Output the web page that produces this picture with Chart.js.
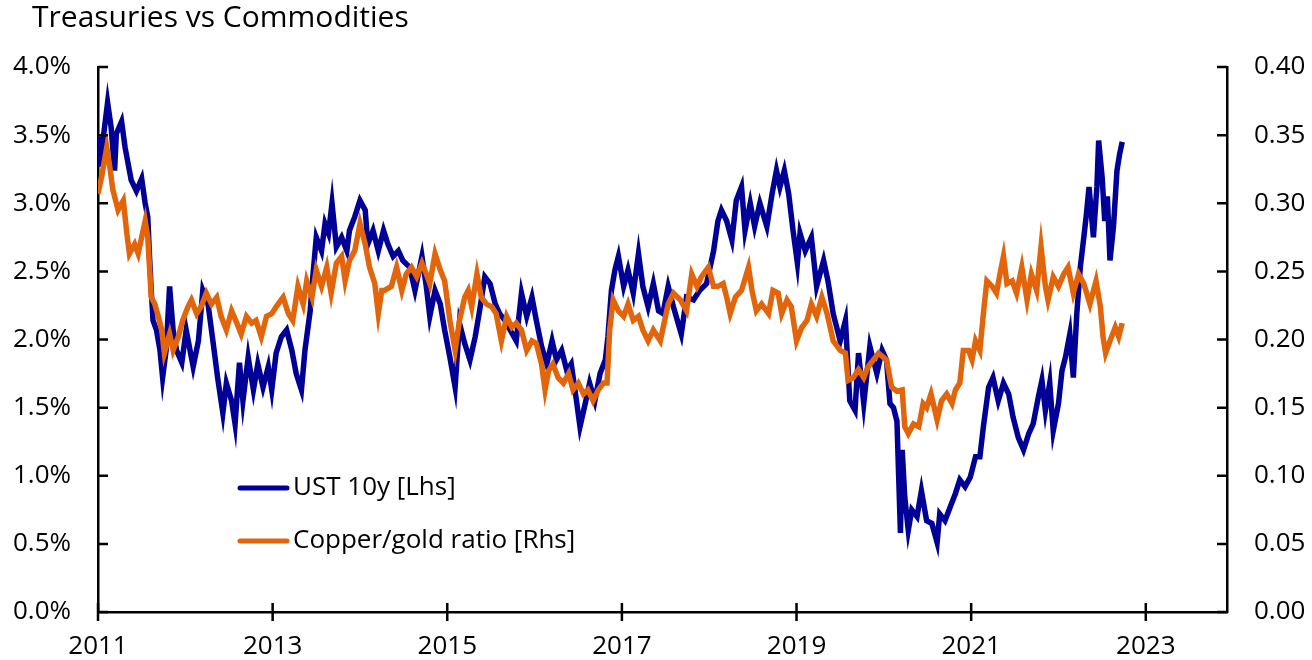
<!DOCTYPE html>
<html>
<head>
<meta charset="utf-8">
<script src="https://cdn.jsdelivr.net/npm/chart.js@4.4.1/dist/chart.umd.min.js"></script>
<style>
  html, body { margin: 0; padding: 0; background: #fff; }
  canvas { display: block; }
</style>
</head>
<body>
<canvas id="chart" width="1312" height="660"></canvas>
<script>
// UST 10y yield (%), left axis
const ustDates = [
  2011.00, 2011.02, 2011.11, 2011.15, 2011.19, 2011.21, 2011.27, 2011.31, 2011.38, 2011.44,
  2011.50, 2011.54, 2011.57, 2011.59, 2011.61, 2011.63, 2011.67, 2011.71, 2011.74, 2011.78,
  2011.82, 2011.86, 2011.90, 2011.96, 2012.01, 2012.09, 2012.15, 2012.20, 2012.26, 2012.32,
  2012.37, 2012.43, 2012.47, 2012.53, 2012.57, 2012.62, 2012.66, 2012.72, 2012.78, 2012.83,
  2012.89, 2012.95, 2012.99, 2013.04, 2013.10, 2013.16, 2013.22, 2013.27, 2013.33, 2013.37,
  2013.43, 2013.46, 2013.50, 2013.56, 2013.60, 2013.64, 2013.68, 2013.73, 2013.79, 2013.85,
  2013.88, 2013.94, 2014.00, 2014.06, 2014.09, 2014.15, 2014.21, 2014.27, 2014.32, 2014.38,
  2014.44, 2014.49, 2014.57, 2014.63, 2014.71, 2014.76, 2014.80, 2014.86, 2014.92, 2014.97,
  2015.03, 2015.09, 2015.14, 2015.20, 2015.26, 2015.32, 2015.37, 2015.43, 2015.49, 2015.55,
  2015.60, 2015.66, 2015.72, 2015.79, 2015.85, 2015.91, 2015.97, 2016.02, 2016.08, 2016.14,
  2016.20, 2016.25, 2016.31, 2016.37, 2016.42, 2016.48, 2016.52, 2016.58, 2016.63, 2016.69,
  2016.75, 2016.81, 2016.84, 2016.88, 2016.92, 2016.96, 2017.02, 2017.07, 2017.13, 2017.19,
  2017.24, 2017.30, 2017.36, 2017.42, 2017.47, 2017.53, 2017.59, 2017.68, 2017.74, 2017.82,
  2017.89, 2017.97, 2018.05, 2018.10, 2018.14, 2018.20, 2018.26, 2018.31, 2018.37, 2018.41,
  2018.47, 2018.52, 2018.58, 2018.66, 2018.72, 2018.77, 2018.81, 2018.86, 2018.91, 2018.96,
  2019.01, 2019.04, 2019.10, 2019.17, 2019.23, 2019.31, 2019.36, 2019.42, 2019.50, 2019.56,
  2019.61, 2019.67, 2019.71, 2019.77, 2019.84, 2019.92, 2019.98, 2020.03, 2020.07, 2020.11,
  2020.15, 2020.19, 2020.21, 2020.24, 2020.28, 2020.32, 2020.38, 2020.43, 2020.49, 2020.55,
  2020.61, 2020.64, 2020.70, 2020.76, 2020.82, 2020.87, 2020.93, 2020.99, 2021.05, 2021.10,
  2021.14, 2021.20, 2021.25, 2021.31, 2021.37, 2021.43, 2021.48, 2021.54, 2021.60, 2021.66,
  2021.71, 2021.77, 2021.81, 2021.85, 2021.90, 2021.94, 2022.00, 2022.04, 2022.08, 2022.13,
  2022.17, 2022.21, 2022.25, 2022.29, 2022.32, 2022.35, 2022.40, 2022.44, 2022.46, 2022.50,
  2022.53, 2022.56, 2022.59, 2022.63, 2022.67, 2022.70, 2022.73
];
const ustYield = [
  3.49, 3.27, 3.74, 3.56, 3.24, 3.51, 3.60, 3.41, 3.17, 3.09,
  3.18, 3.00, 2.90, 2.61, 2.36, 2.14, 2.07, 1.92, 1.72, 1.92,
  2.39, 2.07, 1.92, 1.83, 2.07, 1.80, 1.99, 2.36, 2.26, 1.97,
  1.72, 1.46, 1.68, 1.55, 1.38, 1.83, 1.55, 1.87, 1.63, 1.82,
  1.65, 1.80, 1.63, 1.90, 2.02, 2.07, 1.92, 1.75, 1.63, 1.92,
  2.21, 2.46, 2.75, 2.65, 2.85, 2.78, 3.00, 2.68, 2.75, 2.65,
  2.80, 2.90, 3.02, 2.95, 2.70, 2.80, 2.65, 2.80, 2.70, 2.61,
  2.65, 2.58, 2.53, 2.36, 2.61, 2.39, 2.17, 2.36, 2.26, 2.07,
  1.87, 1.65, 2.12, 1.97, 1.85, 2.02, 2.21, 2.46, 2.41, 2.26,
  2.19, 2.14, 2.07, 1.99, 2.34, 2.17, 2.31, 2.14, 1.95, 1.82,
  1.99, 1.85, 1.92, 1.77, 1.82, 1.55, 1.36, 1.53, 1.68, 1.55,
  1.75, 1.85, 2.02, 2.36, 2.51, 2.61, 2.39, 2.51, 2.34, 2.63,
  2.39, 2.24, 2.41, 2.21, 2.19, 2.39, 2.24, 2.04, 2.31, 2.29,
  2.36, 2.41, 2.65, 2.87, 2.95, 2.87, 2.73, 3.02, 3.12, 2.80,
  3.00, 2.83, 3.00, 2.83, 3.07, 3.24, 3.12, 3.24, 3.07, 2.80,
  2.56, 2.78, 2.65, 2.75, 2.39, 2.58, 2.43, 2.19, 1.99, 2.14,
  1.55, 1.48, 1.90, 1.53, 1.95, 1.75, 1.92, 1.85, 1.53, 1.50,
  1.40, 0.58, 1.19, 0.84, 0.60, 0.75, 0.70, 0.89, 0.67, 0.65,
  0.51, 0.72, 0.67, 0.77, 0.87, 0.97, 0.92, 0.99, 1.14, 1.14,
  1.36, 1.65, 1.72, 1.55, 1.68, 1.60, 1.43, 1.28, 1.19, 1.31,
  1.38, 1.58, 1.70, 1.48, 1.68, 1.33, 1.53, 1.77, 1.87, 2.04,
  1.72, 2.19, 2.53, 2.75, 2.92, 3.12, 2.75, 3.12, 3.46, 3.19,
  2.87, 3.05, 2.58, 2.83, 3.24, 3.36, 3.45
];

// Copper/gold ratio, right axis
const cgDates = [
  2011.00, 2011.04, 2011.10, 2011.13, 2011.17, 2011.23, 2011.29, 2011.33, 2011.36, 2011.42,
  2011.46, 2011.50, 2011.54, 2011.57, 2011.61, 2011.65, 2011.69, 2011.73, 2011.76, 2011.82,
  2011.86, 2011.92, 2011.97, 2012.03, 2012.07, 2012.13, 2012.18, 2012.24, 2012.30, 2012.36,
  2012.41, 2012.47, 2012.53, 2012.59, 2012.64, 2012.70, 2012.76, 2012.81, 2012.87, 2012.93,
  2012.99, 2013.04, 2013.12, 2013.18, 2013.23, 2013.29, 2013.35, 2013.39, 2013.45, 2013.50,
  2013.56, 2013.62, 2013.67, 2013.73, 2013.79, 2013.83, 2013.88, 2013.94, 2014.00, 2014.06,
  2014.11, 2014.17, 2014.21, 2014.25, 2014.28, 2014.36, 2014.42, 2014.48, 2014.53, 2014.59,
  2014.65, 2014.71, 2014.76, 2014.80, 2014.86, 2014.92, 2014.97, 2015.03, 2015.09, 2015.14,
  2015.20, 2015.24, 2015.28, 2015.34, 2015.39, 2015.45, 2015.51, 2015.56, 2015.62, 2015.68,
  2015.74, 2015.79, 2015.85, 2015.91, 2015.97, 2016.02, 2016.08, 2016.12, 2016.16, 2016.21,
  2016.27, 2016.33, 2016.39, 2016.44, 2016.50, 2016.56, 2016.61, 2016.67, 2016.73, 2016.79,
  2016.83, 2016.86, 2016.90, 2016.96, 2017.02, 2017.07, 2017.13, 2017.19, 2017.24, 2017.30,
  2017.36, 2017.44, 2017.49, 2017.53, 2017.59, 2017.67, 2017.74, 2017.80, 2017.86, 2017.91,
  2017.99, 2018.05, 2018.10, 2018.16, 2018.20, 2018.24, 2018.30, 2018.37, 2018.45, 2018.49,
  2018.54, 2018.60, 2018.68, 2018.73, 2018.79, 2018.83, 2018.89, 2018.94, 2019.00, 2019.06,
  2019.12, 2019.17, 2019.23, 2019.29, 2019.35, 2019.42, 2019.50, 2019.56, 2019.59, 2019.65,
  2019.71, 2019.77, 2019.82, 2019.88, 2019.94, 2020.03, 2020.09, 2020.15, 2020.21, 2020.24,
  2020.28, 2020.34, 2020.40, 2020.45, 2020.49, 2020.54, 2020.61, 2020.66, 2020.72, 2020.78,
  2020.82, 2020.87, 2020.91, 2020.97, 2021.01, 2021.05, 2021.10, 2021.14, 2021.18, 2021.24,
  2021.29, 2021.33, 2021.37, 2021.41, 2021.47, 2021.52, 2021.58, 2021.64, 2021.69, 2021.75,
  2021.80, 2021.85, 2021.88, 2021.94, 2022.00, 2022.06, 2022.11, 2022.17, 2022.23, 2022.29,
  2022.36, 2022.43, 2022.48, 2022.51, 2022.54, 2022.59, 2022.65, 2022.69, 2022.73
];
const cgRatio = [
  0.307, 0.319, 0.341, 0.329, 0.310, 0.295, 0.302, 0.278, 0.263, 0.270,
  0.263, 0.275, 0.287, 0.275, 0.231, 0.226, 0.217, 0.207, 0.190, 0.204,
  0.192, 0.202, 0.214, 0.224, 0.229, 0.219, 0.224, 0.234, 0.226, 0.231,
  0.217, 0.207, 0.221, 0.212, 0.204, 0.217, 0.212, 0.214, 0.202, 0.217,
  0.219, 0.224, 0.231, 0.219, 0.214, 0.239, 0.226, 0.243, 0.231, 0.251,
  0.239, 0.253, 0.234, 0.256, 0.261, 0.243, 0.258, 0.265, 0.285, 0.270,
  0.253, 0.241, 0.219, 0.236, 0.236, 0.239, 0.253, 0.236, 0.248, 0.253,
  0.246, 0.256, 0.248, 0.241, 0.263, 0.251, 0.243, 0.214, 0.192, 0.214,
  0.231, 0.236, 0.224, 0.248, 0.231, 0.226, 0.224, 0.219, 0.199, 0.217,
  0.209, 0.212, 0.207, 0.192, 0.199, 0.197, 0.182, 0.163, 0.177, 0.182,
  0.172, 0.168, 0.175, 0.163, 0.168, 0.160, 0.163, 0.155, 0.163, 0.168,
  0.168, 0.207, 0.229, 0.221, 0.217, 0.226, 0.214, 0.217, 0.207, 0.199,
  0.207, 0.199, 0.214, 0.226, 0.234, 0.229, 0.221, 0.248, 0.239, 0.246,
  0.253, 0.239, 0.239, 0.241, 0.231, 0.219, 0.231, 0.236, 0.253, 0.236,
  0.221, 0.226, 0.219, 0.236, 0.234, 0.219, 0.229, 0.224, 0.199, 0.209,
  0.214, 0.226, 0.217, 0.231, 0.219, 0.199, 0.192, 0.190, 0.170, 0.172,
  0.178, 0.172, 0.180, 0.185, 0.190, 0.185, 0.165, 0.162, 0.163, 0.136,
  0.131, 0.138, 0.136, 0.153, 0.150, 0.160, 0.141, 0.155, 0.160, 0.153,
  0.163, 0.168, 0.192, 0.192, 0.185, 0.199, 0.192, 0.219, 0.243, 0.239,
  0.234, 0.248, 0.261, 0.241, 0.243, 0.234, 0.253, 0.229, 0.248, 0.236,
  0.268, 0.239, 0.229, 0.246, 0.239, 0.248, 0.253, 0.234, 0.248, 0.241,
  0.226, 0.243, 0.224, 0.202, 0.190, 0.199, 0.209, 0.202, 0.212
];

const xTicks = [2011, 2013, 2015, 2017, 2019, 2021, 2023];
const leftTicks = [0, 0.5, 1, 1.5, 2, 2.5, 3, 3.5, 4];
const rightTicks = [0, 0.05, 0.1, 0.15, 0.2, 0.25, 0.3, 0.35, 0.4];

const titleText = 'Treasuries vs Commodities';
const ustLabel = 'UST 10y [Lhs]';
const cgLabel = 'Copper/gold ratio [Rhs]';
const blue = '#000096';
const orange = '#E2650B';
const font = '"Open Sans", sans-serif';

// title, legend and tick marks that cross / point into the plot
const decor = {
  id: 'decor',
  afterDraw(chart) {
    const { ctx, chartArea: a, scales } = chart;
    ctx.save();
    ctx.strokeStyle = '#000';
    ctx.lineWidth = 2.5;
    ctx.beginPath();
    xTicks.forEach(v => {
      const x = scales.x.getPixelForValue(v);
      ctx.moveTo(x, a.bottom - 9);
      ctx.lineTo(x, a.bottom + 9);
    });
    leftTicks.forEach(v => {
      const y = scales.y.getPixelForValue(v);
      ctx.moveTo(a.left, y);
      ctx.lineTo(a.left + 10, y);
    });
    rightTicks.forEach(v => {
      const y = scales.y2.getPixelForValue(v);
      ctx.moveTo(a.right - 10, y);
      ctx.lineTo(a.right, y);
    });
    ctx.stroke();

    ctx.fillStyle = '#000';
    ctx.font = '30px ' + font;
    ctx.textBaseline = 'alphabetic';
    ctx.textAlign = 'left';
    ctx.fillText(titleText, 32, 27);

    const items = [[ustLabel, blue, 488], [cgLabel, orange, 541]];
    ctx.font = '26px ' + font;
    ctx.textBaseline = 'middle';
    ctx.lineCap = 'round';
    items.forEach(([label, color, y]) => {
      ctx.strokeStyle = color;
      ctx.lineWidth = 5;
      ctx.beginPath();
      ctx.moveTo(240, y);
      ctx.lineTo(287, y);
      ctx.stroke();
      ctx.fillText(label, 293, y);
    });
    ctx.restore();
  }
};

new Chart(document.getElementById('chart'), {
  type: 'line',
  data: {
    datasets: [
      {
        label: cgLabel,
        data: cgDates.map((d, i) => ({ x: d, y: cgRatio[i] })),
        yAxisID: 'y2',
        borderColor: orange,
        borderWidth: 5.5,
        pointRadius: 0,
        tension: 0,
        order: 0
      },
      {
        label: ustLabel,
        data: ustDates.map((d, i) => ({ x: d, y: ustYield[i] })),
        yAxisID: 'y',
        borderColor: blue,
        borderWidth: 5.5,
        pointRadius: 0,
        tension: 0,
        order: 1
      }
    ]
  },
  options: {
    responsive: false,
    animation: false,
    layout: { padding: { top: 67, left: 0, right: 0, bottom: 0 } },
    plugins: { legend: { display: false }, tooltip: { enabled: false }, title: { display: false } },
    scales: {
      x: {
        type: 'linear',
        min: 2011,
        max: 2023.93,
        afterBuildTicks: s => { s.ticks = xTicks.map(v => ({ value: v })); },
        afterFit: s => { s.height = 48; },
        grid: { display: false },
        border: { color: '#000', width: 2.5 },
        ticks: { color: '#000', font: { family: font, size: 26 }, padding: 11, maxRotation: 0, callback: v => String(v) }
      },
      y: {
        position: 'left',
        min: 0,
        max: 4,
        afterBuildTicks: s => { s.ticks = leftTicks.map(v => ({ value: v })); },
        afterFit: s => { s.width = 98; },
        grid: { display: false },
        border: { color: '#000', width: 2.5 },
        ticks: { color: '#000', font: { family: font, size: 26 }, padding: 19, callback: v => v.toFixed(1) + '%' }
      },
      y2: {
        position: 'right',
        min: 0,
        max: 0.4,
        afterBuildTicks: s => { s.ticks = rightTicks.map(v => ({ value: v })); },
        afterFit: s => { s.width = 85; },
        grid: { display: false },
        border: { color: '#000', width: 2.5 },
        ticks: { color: '#000', font: { family: font, size: 26 }, padding: 19, callback: v => v.toFixed(2) }
      }
    }
  },
  plugins: [decor]
});
</script>
</body>
</html>
